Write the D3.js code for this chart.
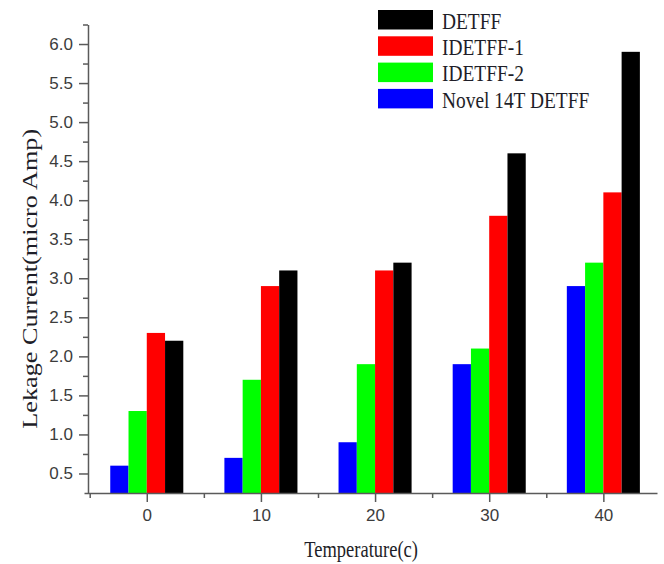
<!DOCTYPE html>
<html>
<head>
<meta charset="utf-8">
<script src="https://cdn.jsdelivr.net/npm/d3@7"></script>
<style>
    body { margin: 0; background: #fff; }
    svg { display: block; }
    .axis text { font-family: "Liberation Sans", Arial, sans-serif; font-size: 17px; fill: #3c3c3c; }
    .axis path, .axis line { stroke: #5a5a5a; stroke-width: 1.5px; }
    .serif { font-family: "Liberation Serif", "Times New Roman", serif; fill: #1e1e28; }
</style>
</head>
<body>
<div id="chart"></div>
<script>
// Temperatures on the x axis
const temperatures = [0, 10, 20, 30, 40];

// Series, in the order the bars are drawn left to right in each group
const seriesNames = ["Novel 14T DETFF", "IDETFF-2", "IDETFF-1", "DETFF"];
const seriesColors = ["#0000ff", "#00ff00", "#ff0000", "#000000"];

// Leakage current (micro Amp), one array per series
const novel14T = [0.6, 0.7, 0.9, 1.9, 2.9];
const idetff2 = [1.3, 1.7, 1.9, 2.1, 3.2];
const idetff1 = [2.3, 2.9, 3.1, 3.8, 4.1];
const detff = [2.2, 3.1, 3.2, 4.6, 5.9];

// Tick values
const xMajorTicks = [0, 10, 20, 30, 40];
const xMinorTicks = [-5, 5, 15, 25, 35];
const yMajorTicks = d3.range(0.5, 6.01, 0.5);
const yMinorTicks = d3.range(0.75, 6.26, 0.5);

const seriesValues = [novel14T, idetff2, idetff1, detff];

const width = 664, height = 564;

const svg = d3.select("#chart").append("svg")
    .attr("width", width)
    .attr("height", height);

// Scales
const x = d3.scaleLinear().domain([-5.5, 44.7]).range([84, 657]);
const y = d3.scaleLinear().domain([0.25, 6.25]).range([493, 24.5]);

// Bars within a group: each bar is 1.6 degrees wide
const barWidth = x(1.6) - x(0);
const sub = d3.scaleBand()
    .domain(seriesNames)
    .range([-2 * barWidth, 2 * barWidth]);

const yAxisX = x(-5.15);

// Bars
const rows = [];
seriesNames.forEach((name, s) => {
    temperatures.forEach((t, i) => {
        rows.push({ name: name, color: seriesColors[s], t: t, v: seriesValues[s][i] });
    });
});

svg.append("g").selectAll("rect")
    .data(rows)
    .join("rect")
    .attr("x", d => x(d.t) + sub(d.name))
    .attr("y", d => y(d.v))
    .attr("width", sub.bandwidth())
    .attr("height", d => y(0.25) - y(d.v))
    .attr("fill", d => d.color);

// X axis
const xAxisG = svg.append("g")
    .attr("class", "axis")
    .attr("transform", `translate(0, ${y(0.25)})`);

xAxisG.call(d3.axisBottom(x)
    .tickValues(xMajorTicks)
    .tickSize(9)
    .tickSizeOuter(0)
    .tickPadding(7));

xAxisG.append("g").call(d3.axisBottom(x)
    .tickValues(xMinorTicks)
    .tickSize(5)
    .tickSizeOuter(0)
    .tickFormat(""))
    .select(".domain").remove();

// Y axis
const yAxisG = svg.append("g")
    .attr("class", "axis")
    .attr("transform", `translate(${yAxisX}, 0)`);

yAxisG.call(d3.axisLeft(y)
    .tickValues(yMajorTicks)
    .tickSize(9)
    .tickSizeOuter(0)
    .tickPadding(6)
    .tickFormat(d3.format(".1f")));

yAxisG.append("g").call(d3.axisLeft(y)
    .tickValues(yMinorTicks)
    .tickSize(5)
    .tickSizeOuter(0)
    .tickFormat(""))
    .select(".domain").remove();

// Axis titles (the original text is stretched vertically)
svg.append("text")
    .attr("class", "serif")
    .attr("text-anchor", "middle")
    .attr("font-size", 18.5)
    .attr("transform", `translate(${(x(0) + x(40)) / 2 - 14}, 557) scale(1, 1.22)`)
    .text("Temperature(c)");

svg.append("text")
    .attr("class", "serif")
    .attr("text-anchor", "middle")
    .attr("font-size", 21.5)
    .attr("transform", `translate(37, ${(y(0.25) + y(6.25)) / 2 + 20}) rotate(-90) scale(1.22, 1)`)
    .text("Lekage Current(micro Amp)");

// Legend, listed in reverse of the bar order
const legendOrder = d3.range(seriesNames.length).reverse();
const legend = svg.append("g").attr("transform", "translate(378, 10)");

const item = legend.selectAll("g")
    .data(legendOrder)
    .join("g")
    .attr("transform", (d, i) => `translate(0, ${i * 26.3})`);

item.append("rect")
    .attr("width", 55)
    .attr("height", 19.5)
    .attr("fill", d => seriesColors[d]);

item.append("text")
    .attr("class", "serif")
    .attr("font-size", 19.4)
    .attr("transform", "translate(64, 18.8) scale(1, 1.22)")
    .text(d => seriesNames[d]);
</script>
</body>
</html>
